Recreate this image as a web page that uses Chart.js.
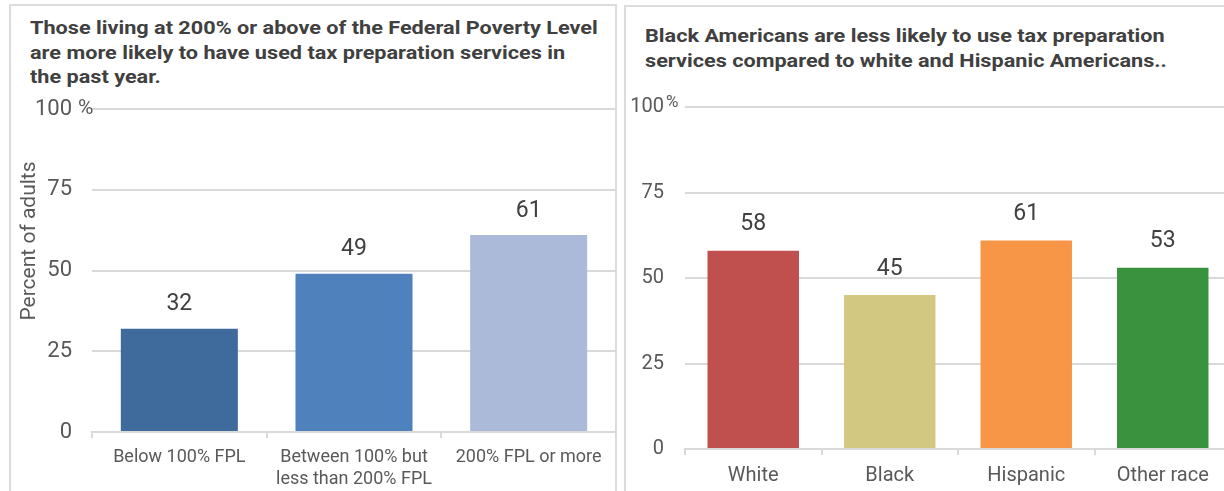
<!DOCTYPE html>
<html>
<head>
<meta charset="utf-8">
<script src="https://cdn.jsdelivr.net/npm/chart.js@4.4.1/dist/chart.umd.min.js"></script>
<style>
  html, body { margin: 0; padding: 0; background: #fff; }
  body { width: 1224px; height: 491px; overflow: hidden; position: relative; font-family: Roboto, sans-serif; }
  .panel { position: absolute; border: 2px solid #dcdcdc; box-sizing: border-box; }
  .title { position: absolute; font-family: Roboto, sans-serif; font-weight: bold; font-size: 19px; line-height: 24.5px; color: #404040; white-space: nowrap; transform: scaleX(1.14); transform-origin: left top; }
  canvas { position: absolute; }
</style>
</head>
<body>
<div class="panel" style="left:9px; top:4px; width:608px; height:600px;"></div>
<div class="panel" style="left:624px; top:5px; width:700px; height:600px;"></div>

<div class="title" style="left:30px; top:16px;">Those living at 200% or above of the Federal Poverty Level<br>are more likely to have used tax preparation services in<br>the past year.</div>
<div class="title" style="left:645px; top:24px;">Black Americans are less likely to use tax preparation<br>services compared to white and Hispanic Americans..</div>

<canvas id="povertyChart" width="604" height="396" style="left:12px; top:95px;"></canvas>
<canvas id="raceChart" width="620" height="396" style="left:627px; top:95px;"></canvas>

<script>
const povertyLabels = [["Below 100% FPL"], ["Between 100% but", "less than 200% FPL"], ["200% FPL or more"]];
const povertyValues = [32, 49, 61];
const povertyColors = ["#3F6A9C", "#4F81BD", "#AABAD8"];

const raceLabels = ["White", "Black", "Hispanic", "Other race"];
const raceValues = [58, 45, 61, 53];
const raceColors = ["#C0504D", "#D2C882", "#F79646", "#3A923F"];

const yTicks = [0, 25, 50, 75, 100];

const textColor = "#595959";
const gridColor = "#d9d9d9";

// writes the value above each bar, the % sign after the top tick and the rotated axis title
const extraText = {
    id: "extraText",
    afterDatasetsDraw(chart, args, opts) {
        const ctx = chart.ctx;
        const meta = chart.getDatasetMeta(0);
        const values = chart.data.datasets[0].data;
        ctx.save();
        ctx.font = opts.size + "px Roboto";
        ctx.fillStyle = "#404040";
        ctx.textAlign = "center";
        ctx.textBaseline = "middle";
        meta.data.forEach((bar, i) => {
            ctx.fillText(values[i], bar.x, bar.y - opts.offset);
        });

        const y = chart.scales.y;
        ctx.fillStyle = textColor;
        ctx.textAlign = "left";
        ctx.font = opts.pctSize + "px Roboto";
        ctx.fillText("%", y.right - opts.pctX, y.getPixelForValue(100) - opts.pctRaise);

        if (opts.title) {
            ctx.font = opts.titleSize + "px Roboto";
            ctx.textAlign = "center";
            ctx.translate(opts.titleX, opts.titleY);
            ctx.rotate(-Math.PI / 2);
            ctx.fillText(opts.title, 0, 0);
        }
        ctx.restore();
    }
};

function makeChart(id, labels, values, colors, cfg) {
    return new Chart(document.getElementById(id), {
        type: "bar",
        data: {
            labels: labels,
            datasets: [{
                data: values,
                backgroundColor: colors,
                barPercentage: 0.67,
                categoryPercentage: 1
            }]
        },
        options: {
            responsive: false,
            devicePixelRatio: 1,
            animation: false,
            layout: { autoPadding: false, padding: cfg.padding },
            plugins: {
                legend: { display: false },
                tooltip: { enabled: false },
                extraText: cfg.extra
            },
            scales: {
                x: {
                    grid: { display: true, drawOnChartArea: false, color: gridColor, lineWidth: 2, tickLength: 6 },
                    border: { display: true, color: gridColor, width: 2 },
                    ticks: {
                        color: textColor,
                        font: { family: "Roboto", size: cfg.xSize },
                        padding: cfg.xPad,
                        maxRotation: 0,
                        autoSkip: false
                    },
                    afterFit: (scale) => {
                        scale.height = cfg.xHeight;
                        scale.paddingLeft = 0;
                        scale.paddingRight = 0;
                    }
                },
                y: {
                    min: 0,
                    max: 100,
                    afterBuildTicks: (scale) => { scale.ticks = yTicks.map(v => ({ value: v })); },
                    grid: { color: gridColor, lineWidth: 2, drawTicks: false },
                    border: { display: false },
                    ticks: {
                        color: textColor,
                        font: { family: "Roboto", size: cfg.ySize },
                        padding: cfg.yPad
                    },
                    afterFit: (scale) => {
                        scale.width = cfg.yWidth;
                        scale.paddingTop = 0;
                        scale.paddingBottom = 0;
                    }
                }
            }
        },
        plugins: [extraText]
    });
}

makeChart("povertyChart", povertyLabels, povertyValues, povertyColors, {
    padding: { top: 14, right: 0, left: 0, bottom: 0 },
    xSize: 18,
    xPad: 9,
    xHeight: 59,
    ySize: 22,
    yPad: 20,
    yWidth: 80,
    extra: {
        size: 23, offset: 24,
        pctSize: 21, pctX: 14, pctRaise: 0,
        title: "Percent of adults", titleSize: 21, titleX: 18, titleY: 146
    }
});

makeChart("raceChart", raceLabels, raceValues, raceColors, {
    padding: { top: 12, right: 16, left: 0, bottom: 0 },
    xSize: 20,
    xPad: 9,
    xHeight: 42,
    ySize: 20,
    yPad: 21,
    yWidth: 58,
    extra: {
        size: 23, offset: 26,
        pctSize: 17, pctX: 19, pctRaise: 4
    }
});
</script>
</body>
</html>
